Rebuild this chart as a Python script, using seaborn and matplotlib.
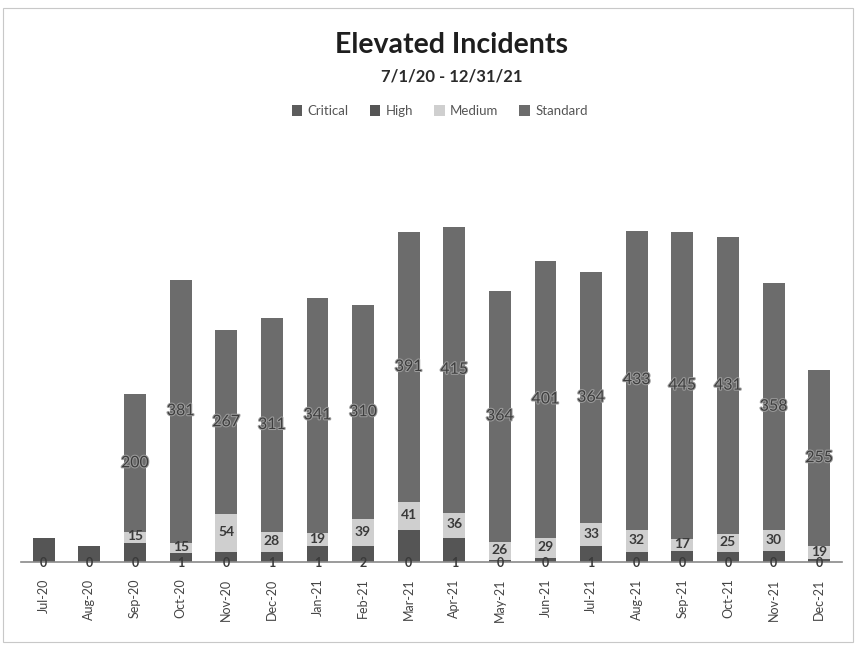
import matplotlib
matplotlib.use("Agg")
import matplotlib.pyplot as plt
import matplotlib.patheffects as pe
from matplotlib.patches import Patch, Rectangle
import numpy as np
import pandas as pd
import seaborn as sns

months = ["Jul-20", "Aug-20", "Sep-20", "Oct-20", "Nov-20", "Dec-20",
          "Jan-21", "Feb-21", "Mar-21", "Apr-21", "May-21", "Jun-21",
          "Jul-21", "Aug-21", "Sep-21", "Oct-21", "Nov-21", "Dec-21"]
critical = [0, 0, 0, 1, 0, 1, 1, 2, 0, 1, 0, 0, 1, 0, 0, 0, 0, 0]
high = [35, 23, 28, 12, 15, 14, 22, 21, 46, 34, 3, 6, 22, 15, 16, 15, 16, 4]
medium = [0, 0, 15, 15, 54, 28, 19, 39, 41, 36, 26, 29, 33, 32, 17, 25, 30, 19]
standard = [0, 0, 200, 381, 267, 311, 341, 310, 391, 415, 364, 401, 364, 433, 445, 431, 358, 255]

series_names = ["Critical", "High", "Medium", "Standard"]
series_vals = [critical, high, medium, standard]
series_colors = ["#5c5c5c", "#555555", "#cfcfcf", "#6c6c6c"]

sns.set_theme(style="white")
plt.rcParams["font.family"] = ["Lato", "DejaVu Sans"]

fig = plt.figure(figsize=(8.57, 6.46), dpi=100)
ax = fig.add_axes([0.0245, 0.130, 0.958, 0.6625])

df = pd.DataFrame({"month": months})
bottoms = np.zeros(len(months))
for name, vals, col in zip(series_names, series_vals, series_colors):
    vals = np.asarray(vals, dtype=float)
    sns.barplot(x=df["month"], y=vals, bottom=bottoms, color=col,
                width=0.48, ax=ax, saturation=1, linewidth=0)
    centers = bottoms + vals / 2
    for i, (v, c) in enumerate(zip(vals, centers)):
        if name == "Critical":
            # zero-height segments: value sits on the baseline
            ax.text(i, c - 2, f"{int(v)}", ha="center", va="center", fontsize=9,
                    color="#3a3a3a", fontweight="bold")
        elif name == "Medium" and v > 0:
            ax.text(i, c + 1.5, f"{int(v)}", ha="center", va="center", fontsize=10,
                    color="#3a3a3a", fontweight="bold")
        elif name == "Standard" and v > 0:
            ax.text(i, c, f"{int(v)}", ha="center", va="center", fontsize=11.5,
                    color="#3d3d3d",
                    path_effects=[pe.withStroke(linewidth=1.5, foreground="#9c9c9c")])
    bottoms = bottoms + vals

ax.set_xlim(-0.5, len(months) - 0.5)
ax.set_ylim(0, 620)
ax.set_xlabel("")
ax.set_ylabel("")
ax.set_yticks([])
for side in ["top", "right", "left"]:
    ax.spines[side].set_visible(False)
ax.spines["bottom"].set_color("#8a8a8a")
ax.spines["bottom"].set_linewidth(1.2)
ax.spines["bottom"].set_linestyle((0, (2, 1)))
ax.tick_params(axis="x", labelrotation=90, labelsize=9, colors="#444444",
               length=0, pad=12)

fig.text(0.527, 0.930, "Elevated Incidents", ha="center", va="center",
         fontsize=20.5, fontweight="bold", color="#1e1e1e")
fig.text(0.527, 0.882, "7/1/20 - 12/31/21", ha="center", va="center",
         fontsize=12, fontweight="bold", color="#2a2a2a")

handles = [Patch(facecolor=c, edgecolor="none") for c in series_colors]
fig.legend(handles, series_names, loc="center", bbox_to_anchor=(0.513, 0.828),
           ncol=4, frameon=False, fontsize=9.5, labelcolor="#555555",
           handlelength=0.8, handleheight=0.8, handletextpad=0.4,
           columnspacing=1.6)

fig.patches.append(Rectangle((0.003, 0.006), 0.992, 0.982, transform=fig.transFigure,
                             fill=False, edgecolor="#c8c8c8", linewidth=0.8))

fig.savefig("out.png", dpi=100, facecolor="white")
